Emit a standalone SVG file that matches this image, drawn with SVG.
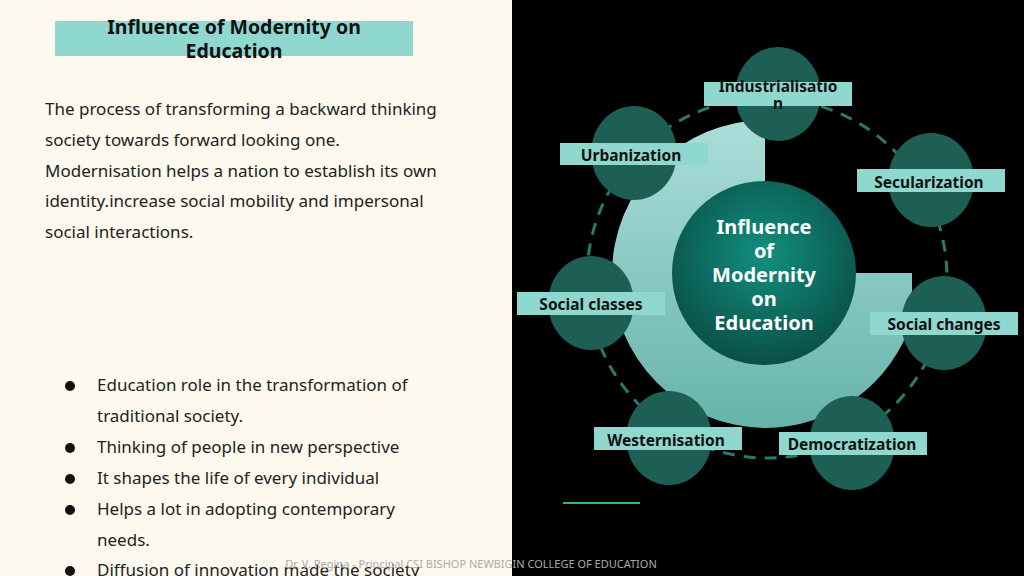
<svg xmlns="http://www.w3.org/2000/svg" width="1024" height="576" viewBox="0 0 1024 576">
<defs>
<style>
.b{font-family:"Noto Sans","Open Sans",sans-serif;font-size:17px;fill:#222}
.lab{fill:#8fd8cf}
.lt{font-family:"Noto Sans","Open Sans",sans-serif;font-size:15.5px;font-weight:bold;fill:#111;text-anchor:middle}
.sat{fill:#1d5e55}
</style>
<linearGradient id="lg" x1="0" y1="0" x2="0" y2="1"><stop offset="0" stop-color="#acdeda"/><stop offset="1" stop-color="#66b3aa"/></linearGradient>
<radialGradient id="rg" cx="0.5" cy="0.4" r="0.6"><stop offset="0" stop-color="#11907f"/><stop offset="1" stop-color="#0a4f47"/></radialGradient>
</defs>
<rect width="512" height="576" fill="#fdf9ee"/>
<rect x="512" width="512" height="576" fill="#000"/>
<g id="title">
<rect x="55" y="21" width="358" height="35" fill="#8fd8cf"/>
<text x="234" y="34" text-anchor="middle" style="font-family:'Noto Sans',sans-serif;font-size:19.5px;font-weight:bold;fill:#111">Influence of Modernity on</text>
<text x="234" y="58" text-anchor="middle" style="font-family:'Noto Sans',sans-serif;font-size:19.5px;font-weight:bold;fill:#111">Education</text>
</g>
<g id="body">
<text class="b" x="45" y="115">The process of transforming a backward thinking</text>
<text class="b" x="45" y="146">society towards forward looking one.</text>
<text class="b" x="45" y="177">Modernisation helps a nation to establish its own</text>
<text class="b" x="45" y="207">identity.increase social mobility and impersonal</text>
<text class="b" x="45" y="238">social interactions.</text>
</g>
<g id="bullets">
<circle cx="70" cy="386" r="5" fill="#111"/><text class="b" x="97" y="391">Education role in the transformation of</text>
<text class="b" x="97" y="422">traditional society.</text>
<circle cx="70" cy="448" r="5" fill="#111"/><text class="b" x="97" y="453">Thinking of people in new perspective</text>
<circle cx="70" cy="479" r="5" fill="#111"/><text class="b" x="97" y="484">It shapes the life of every individual</text>
<circle cx="70" cy="510" r="5" fill="#111"/><text class="b" x="97" y="515">Helps a lot in adopting contemporary</text>
<text class="b" x="97" y="546">needs.</text>
<circle cx="70" cy="571" r="5" fill="#111"/><text class="b" x="97" y="576">Diffusion of innovation made the society</text>
</g>
<text x="471" y="568" text-anchor="middle" style="font-family:'Noto Sans',sans-serif;font-size:11px;fill:#aaa">Dr. V. Regina - Principal CSI BISHOP NEWBIGIN COLLEGE OF EDUCATION</text>
<path d="M765,120 A154,154 0 0 0 612,274 A154,154 0 0 0 765,428 A154,154 0 0 0 912,320 L912,273 L765,273 Z" fill="url(#lg)"/>
<g id="connectors"><circle cx="767" cy="278" r="180" fill="none" stroke="#2a7a6c" stroke-width="3" stroke-dasharray="12 9"/></g>
<g id="center"><circle cx="764" cy="273" r="92" fill="url(#rg)"/>
<g style="font-family:'Noto Sans',sans-serif;font-size:20px;font-weight:bold;fill:#fff" text-anchor="middle">
<text x="764" y="234">Influence</text><text x="764" y="258">of</text><text x="764" y="282">Modernity</text><text x="764" y="306">on</text><text x="764" y="330">Education</text></g></g>
<g id="n1"><ellipse class="sat" cx="778" cy="94" rx="43" ry="47"/><rect class="lab" x="704" y="82" width="148" height="24"/><text class="lt" x="778" y="92">Industrialisatio</text><text class="lt" x="778" y="109">n</text></g>
<g id="n2"><ellipse class="sat" cx="634" cy="153" rx="43" ry="47"/><rect class="lab" x="560" y="143" width="148" height="22"/><text class="lt" x="631" y="161">Urbanization</text></g>
<g id="n3"><ellipse class="sat" cx="931" cy="180" rx="43" ry="47"/><rect class="lab" x="857" y="169" width="148" height="23"/><text class="lt" x="929" y="188">Secularization</text></g>
<g id="n4"><ellipse class="sat" cx="944" cy="323" rx="43" ry="47"/><rect class="lab" x="870" y="312" width="148" height="23"/><text class="lt" x="944" y="330">Social changes</text></g>
<g id="n5"><ellipse class="sat" cx="852" cy="443" rx="43" ry="47"/><rect class="lab" x="779" y="432" width="148" height="23"/><text class="lt" x="852" y="450">Democratization</text></g>
<g id="n6"><ellipse class="sat" cx="669" cy="438" rx="43" ry="47"/><rect class="lab" x="594" y="427" width="148" height="23"/><text class="lt" x="666" y="446">Westernisation</text></g>
<g id="n7"><ellipse class="sat" cx="591" cy="303" rx="43" ry="47"/><rect class="lab" x="517" y="292" width="148" height="23"/><text class="lt" x="591" y="310">Social classes</text></g>
<line x1="563" y1="503" x2="640" y2="503" stroke="#2bb3a3" stroke-width="2"/>
</svg>
